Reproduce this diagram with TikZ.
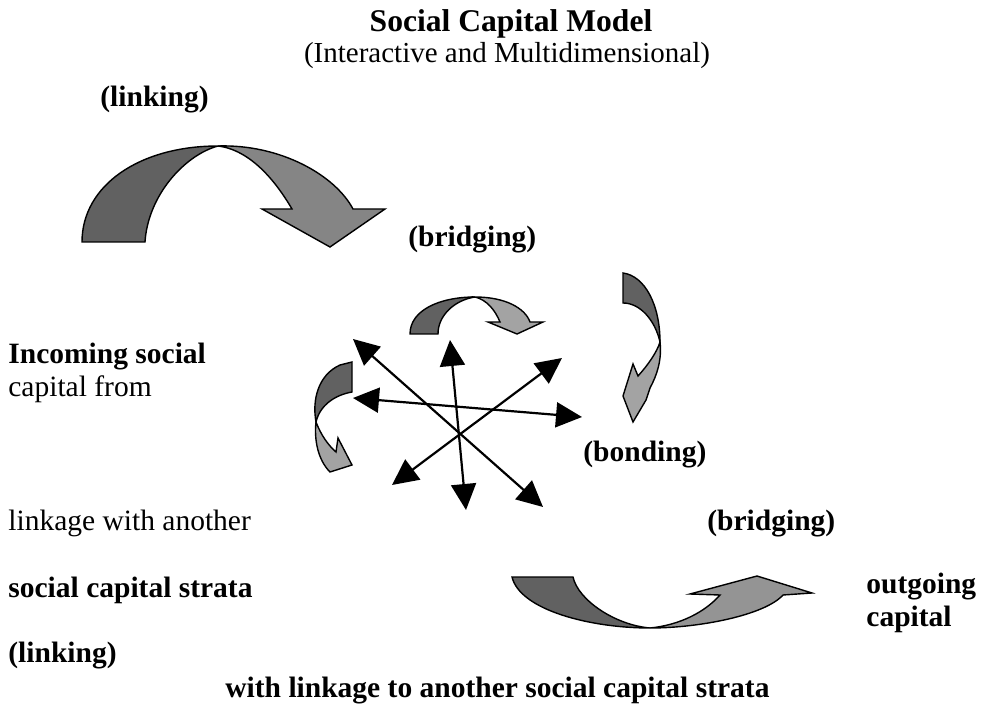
\documentclass[tikz,border=0pt]{standalone}
\usepackage{fontspec}
\setmainfont{Liberation Serif}
\usetikzlibrary{arrows.meta}

\begin{document}
\begin{tikzpicture}[x=0.5pt,y=-0.5pt,
		txt/.style={inner sep=0pt,font=\fontsize{14.75}{17}\selectfont},
		btxt/.style={inner sep=0pt,font=\fontsize{14.75}{17}\selectfont\bfseries},
		ribbon/.style={draw=black,line width=0.7pt,line join=miter},
		shade/.style={ribbon,fill=black!62},
		tint/.style={ribbon,fill=black!36},
		spoke/.style={line width=1.1pt,
			{Triangle[length=13pt,width=12.5pt]}-{Triangle[length=13pt,width=12.5pt]}}]
		\useasboundingbox (0,0) rectangle (983,704);
		
		% headings
		\node[btxt,anchor=base,font=\fontsize{15.8}{18}\selectfont\bfseries] (title) at (511,32) {Social Capital Model};
		\node[txt,anchor=base,font=\fontsize{14.5}{17}\selectfont] (subtitle) at (507,63) {(Interactive and Multidimensional)};
		
		% labels
		\node[btxt,anchor=base west] (linkTop) at (100,107) {(linking)};
		\node[btxt,anchor=base west] (bridgeTop) at (408,247) {(bridging)};
		\node[btxt,anchor=base west] (incoming) at (8,364) {Incoming social};
		\node[txt,anchor=base west] (capFrom) at (8,397) {capital from};
		\node[btxt,anchor=base west] (bonding) at (583,462) {(bonding)};
		\node[txt,anchor=base west] (linkage) at (8,530) {linkage with another};
		\node[btxt,anchor=base west] (bridgeLow) at (707,530) {(bridging)};
		\node[btxt,anchor=base west] (strata) at (8,597) {social capital strata};
		\node[btxt,anchor=base west] (outgoing) at (866,593) {outgoing};
		\node[btxt,anchor=base west] (outCap) at (866,626) {capital};
		\node[btxt,anchor=base west] (linkLow) at (8,662) {(linking)};
		\node[btxt,anchor=base west] (withLink) at (225,697) {with linkage to another social capital strata};
		
		% big linking arrow, top left
		\draw[shade] (82,242) .. controls (82,185) and (140,146) .. (218,146)
			.. controls (185,155) and (148,195) .. (145,242) -- cycle;
		\draw[ribbon,fill=black!48] (218,146) .. controls (280,144) and (335,175) .. (353,209)
			-- (385,209) -- (330,247) -- (262,209) -- (292,209)
			.. controls (275,180) and (250,150) .. (218,146) -- cycle;
		
		% small bridging arrow
		\draw[shade] (410,334) .. controls (410,310) and (440,297) .. (475,297)
			.. controls (455,300) and (438,315) .. (438,334) -- cycle;
		\draw[tint] (475,297) .. controls (505,297) and (525,308) .. (530,322)
			-- (543,322) -- (517,334) -- (488,322) -- (500,322)
			.. controls (495,310) and (487,300) .. (475,297) -- cycle;
		
		% right arrow, going down
		\draw[shade] (623,273) .. controls (645,276) and (660,305) .. (660,342)
			.. controls (655,320) and (640,303) .. (623,303) -- cycle;
		\draw[tint] (660,342) .. controls (662,360) and (657,375) .. (650,388)
			-- (646,400) -- (633,422) -- (623,396) -- (633,364) -- (638,376)
			.. controls (648,365) and (657,352) .. (660,342) -- cycle;
		
		% left arrow, going down
		\draw[shade] (340,365) -- (352,362) -- (352,392)
			.. controls (335,395) and (320,405) .. (316,422)
			.. controls (312,400) and (318,375) .. (340,365) -- cycle;
		\draw[tint] (316,422) .. controls (314,440) and (318,460) .. (330,472)
			-- (352,465) -- (338,438) -- (336,452)
			.. controls (328,445) and (321,435) .. (316,422) -- cycle;
		
		% bottom arrow, outgoing
		\draw[shade] (512,577) -- (573,577) .. controls (578,600) and (615,625) .. (650,628)
			.. controls (590,628) and (520,610) .. (512,577) -- cycle;
		\draw[ribbon,fill=black!42] (650,628) .. controls (700,628) and (765,615) .. (783,595)
			-- (812,593) -- (757,576) -- (690,594) -- (720,595)
			.. controls (705,612) and (680,625) .. (650,628) -- cycle;
		
		% bonding star
		\coordinate (nw) at (353,339);
		\coordinate (se) at (543,507);
		\coordinate (n) at (450,340);
		\coordinate (s) at (466,510);
		\coordinate (ne) at (562,358);
		\coordinate (sw) at (392,485);
		\coordinate (w) at (353,398);
		\coordinate (e) at (582,417);
		
		\draw[spoke] (nw) -- (se);
		\draw[spoke] (n) -- (s);
		\draw[spoke] (ne) -- (sw);
		\draw[spoke] (w) -- (e);
	\end{tikzpicture}
\end{document}
